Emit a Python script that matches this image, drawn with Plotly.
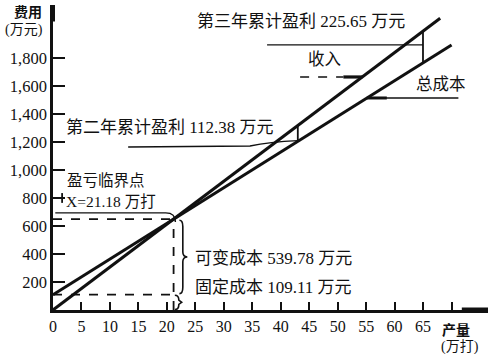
import plotly.graph_objects as go

# ---- data ----
fixed_cost = 109.11            # 固定成本 (万元)
variable_cost_be = 539.78      # 可变成本 at break-even (万元)
breakeven_x = 21.18            # 盈亏临界点 (万打)
year_profits = [112.38, 225.65]  # 第二年 / 第三年 累计盈利 (万元)
revenue_q = [0, 68]            # 收入 line extent (万打)
cost_q = [0, 70]               # 总成本 line extent (万打)
x_ticks = [0, 5, 10, 15, 20, 25, 30, 35, 40, 45, 50, 55, 60, 65, 70]
x_ticktext = ["0", "5", "10", "15", "20", "25", "30", "35", "40", "45", "50", "55", "60", "65", ""]
y_ticks = [200, 400, 600, 800, 1000, 1200, 1400, 1600, 1800]
y_ticktext = ["200", "400", "600", "800", "1,000", "1,200", "1,400", "1,600", "1,800"]

be_total = fixed_cost + variable_cost_be
price = be_total / breakeven_x
unit_var = variable_cost_be / breakeven_x

def rev(q):
    return price * q

def cost(q):
    return fixed_cost + unit_var * q

profit_q = [(p + fixed_cost) / (price - unit_var) for p in year_profits]

XR = [0, 76.4]
YR = [0, 2178]

FONT = "Liberation Serif, Noto Sans CJK SC"
BLACK = "#111111"

fig = go.Figure()
fig.add_trace(go.Scatter(x=revenue_q, y=[rev(q) for q in revenue_q], mode="lines",
                         line=dict(color=BLACK, width=3), showlegend=False, hoverinfo="skip"))
fig.add_trace(go.Scatter(x=cost_q, y=[cost(q) for q in cost_q], mode="lines",
                         line=dict(color=BLACK, width=3), showlegend=False, hoverinfo="skip"))

shapes = []
def seg(x0, y0, x1, y1, w=1.6, dash=None):
    d = dict(type="line", xref="x", yref="y", x0=x0, y0=y0, x1=x1, y1=y1,
             line=dict(color=BLACK, width=w))
    if dash:
        d["line"]["dash"] = dash
    shapes.append(d)

# break-even dashed guides
seg(0, be_total, breakeven_x, be_total, 1.8, "dash")
seg(breakeven_x, 0, breakeven_x, be_total, 1.8, "dash")
seg(0, fixed_cost, breakeven_x, fixed_cost, 1.8, "dash")

# solid bracket line above break-even level
shapes.append(dict(type="path", xref="x", yref="y",
                   path=f"M 0.4,{be_total+45} L 19.8,{be_total+45} Q 21.5,{be_total+45} 21.5,{be_total-20}",
                   line=dict(color=BLACK, width=1.4)))

# brace for variable cost
x0, xm, tip = 22.2, 22.8, 23.6
top, bot = be_total - 8, fixed_cost + 8
mid = (top + bot) / 2
shapes.append(dict(type="path", xref="x", yref="y",
                   path=(f"M {x0},{top} Q {xm},{top} {xm},{top-45} L {xm},{mid+35} "
                         f"Q {xm},{mid} {tip},{mid} Q {xm},{mid} {xm},{mid-35} "
                         f"L {xm},{bot+45} Q {xm},{bot} {x0},{bot}"),
                   line=dict(color=BLACK, width=1.6)))
# small brace for fixed cost
shapes.append(dict(type="path", xref="x", yref="y",
                   path=f"M 21.4,{fixed_cost-4} Q 22.1,{fixed_cost-4} 22.1,70 L 22.6,55 L 22.1,40 Q 22.1,4 21.4,4",
                   line=dict(color=BLACK, width=1.6)))

# marker at 800 on the y axis
seg(1.6, 765, 1.6, 835, 1.8)

# year-3 profit bracket and leader
q3 = profit_q[1]
seg(q3, cost(q3), q3, rev(q3), 1.8)
seg(37.6, 1893, q3, 1893, 1.4)
# year-2 profit bracket and leader
q2 = profit_q[0]
seg(q2, cost(q2), q2, rev(q2), 1.8)
shapes.append(dict(type="path", xref="x", yref="y",
                   path=f"M 13.2,1164 L 34.6,1171 Q 38,1200 {q2},{cost(q2)+5}",
                   line=dict(color=BLACK, width=1.4)))

# 收入 leader (dashed) and 总成本 leader
seg(43.4, 1664, 51.0, 1664, 1.6, "dash")
seg(51.0, 1664, (1664) / price, 1664, 3.2)
y_tc = 1514
seg((y_tc - fixed_cost) / unit_var + 1.2, y_tc, 71.2, y_tc, 1.6)
seg((y_tc - fixed_cost) / unit_var, y_tc, (y_tc - fixed_cost) / unit_var + 3.5, y_tc, 3.0)

# axis arrows
seg(71.8, 0, 76.4, 0, 5)
seg(0, 2060, 0, 2178, 4)

fig.update_layout(shapes=shapes)

ann = []
def txt(x, y, s, size=16.5, anchor="center", xref="x", yref="y"):
    ann.append(dict(x=x, y=y, xref=xref, yref=yref, text=s, showarrow=False,
                    xanchor=anchor, yanchor="middle",
                    font=dict(family=FONT, size=size, color=BLACK)))

txt(43.6, 2057, "第三年累计盈利 225.65 万元", 17)
txt(47.6, 1786, "收入")
txt(68.2, 1607, "总成本")
txt(20.6, 1300, "第二年累计盈利 112.38 万元", 17)
txt(2.1, 925, "盈亏临界点", 15.5, anchor="left")
txt(2.0, 777, "X=21.18 万打", 15.5, anchor="left")
txt(24.6, 371, "可变成本 539.78 万元", 17, anchor="left")
txt(24.6, 164, "固定成本 109.11 万元", 17, anchor="left")

txt(-0.057, 0.977, "<b>费用</b>", 14, xref="paper", yref="paper")
txt(-0.066, 0.918, "(万元)", 14, xref="paper", yref="paper")
txt(0.926, -0.066, "<b>产量</b>", 14, xref="paper", yref="paper")
txt(0.936, -0.121, "(万打)", 14, xref="paper", yref="paper")
fig.update_layout(annotations=ann)

fig.update_xaxes(range=XR, tickmode="array", tickvals=x_ticks, ticktext=x_ticktext,
                 ticks="inside", ticklen=8, tickwidth=1.8, tickcolor=BLACK,
                 showline=True, linecolor=BLACK, linewidth=2.5, showgrid=False, zeroline=False,
                 tickfont=dict(family=FONT, size=16, color=BLACK))
fig.update_yaxes(range=YR, tickmode="array", tickvals=y_ticks, ticktext=y_ticktext,
                 ticks="inside", ticklen=12, tickwidth=1.8, tickcolor=BLACK,
                 showline=True, linecolor=BLACK, linewidth=2.5, showgrid=False, zeroline=False,
                 tickfont=dict(family=FONT, size=16.5, color=BLACK))

fig.update_layout(width=490, height=354, margin=dict(l=53, r=2, t=5, b=44),
                  paper_bgcolor="white", plot_bgcolor="white", showlegend=False)

fig.write_html("out.html")
